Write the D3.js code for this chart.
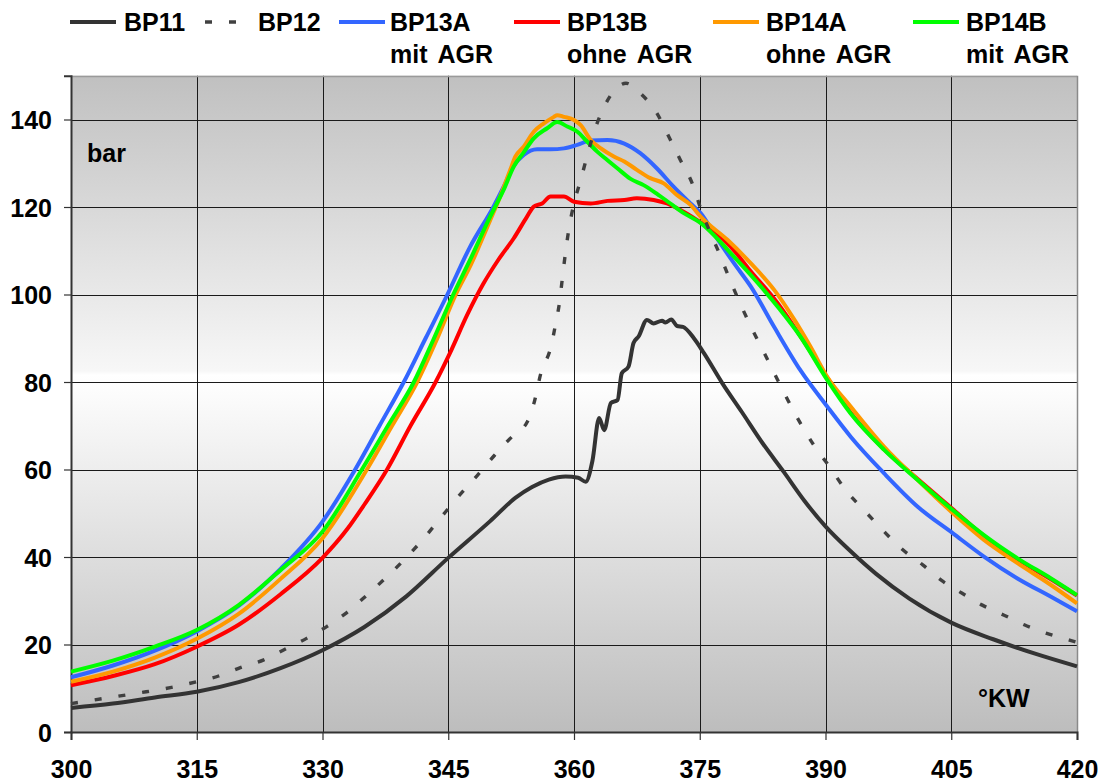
<!DOCTYPE html>
<html>
<head>
<meta charset="utf-8">
<script src="https://cdn.jsdelivr.net/npm/d3@7"></script>
<style>
  html, body { margin: 0; padding: 0; background: #ffffff; }
  svg { display: block; }
  text { font-family: "Liberation Sans", Arial, sans-serif; font-weight: bold; fill: #000; }
</style>
</head>
<body>
<svg id="chart" width="1102" height="782"></svg>
<script>
// Crank angle (°KW) and cylinder pressure (bar) per operating point
const bp11 = [
  [300,5.5],[305,6.5],[310,7.9],[315,9.2],[320,11.4],[325,14.6],[330,18.7],[335,24],
  [340,31],[345,39.8],[350,48.2],[353,53.5],[355,56],[357,57.7],[359,58.4],
  [360.5,58.1],[361.4,57.2],[362.2,62],[363,71.8],[363.6,69],[364.4,75.2],[365.2,75.9],
  [365.7,82],[366.5,83.5],[367.1,88.9],[367.7,90.4],[368.7,94.2],[369.5,93.4],[370.5,94],
  [370.9,93.6],[371.6,94.3],[372.3,92.8],[373,92.6],[374.3,90],[375.5,86.6],[377.7,79.7],
  [380,73.2],[382.5,66],[385,59.5],[387.5,52.8],[390,47],[393,41.3],[396,36.2],[400,30.5],
  [405,25],[410,21.2],[415,17.9],[420,15]
];
const bp12 = [
  [300,6.5],[304,7.7],[308,8.9],[312,10.2],[315,11.5],[317.6,12.8],[320.2,14.7],[323,16.5],
  [325.3,18.7],[328.1,21.4],[330.5,24.1],[332.9,27.3],[335.3,31.3],[337.7,35.5],[339.9,39.7],
  [342.1,44.3],[344.2,49.2],[346.2,53.8],[348.4,58.5],[350.5,63.2],[352.6,67.5],[354.4,70.8],
  [355.2,75],[356.1,82.4],[357.2,87.7],[357.8,93.2],[358.3,98.6],[358.6,103.5],[359,109.8],
  [359.4,115.1],[360,120.8],[360.8,126.2],[361.6,131.9],[362.4,137.2],[363.6,142.9],
  [365.2,147.4],[366.2,148.3],[367.9,146],[369.9,141.4],[371.3,136.1],[372.7,130.7],
  [374.1,125.4],[375.1,119.7],[377.5,108.6],[378.7,102.9],[379.9,97.6],[381.3,91.9],
  [382.7,86.6],[384.1,81.2],[385.5,75.9],[387,70.6],[388.6,65.6],[390.6,60.3],[392.4,55.3],
  [394.6,50.7],[396.8,46.2],[399,42],[401.6,38.2],[403.8,34.7],[406.3,31.7],[408.7,29],
  [411.3,26.7],[413.7,24.5],[416.3,22.6],[419.1,21],[420,20.5]
];
const bp13a = [
  [300,12.5],[305,15.2],[310,18.6],[315,23],[320,28.8],[325,37.3],[330,48.1],[333.9,60],
  [336.8,70],[339.7,80],[342.3,90],[344.9,100],[347.6,110.9],[350.4,120.1],[351.6,124.6],
  [352.8,129.4],[354,131.9],[355.6,133.2],[357.2,133.2],[358.8,133.4],[360.4,134.2],
  [362,135.2],[364,135.3],[366,134.5],[367.9,132.3],[369.9,128.8],[371.9,124.6],[373.9,120.8],
  [375.1,118.6],[377,113],[379.1,107.1],[381.1,101.8],[383.9,92.5],[387,82.7],[390.2,74.4],
  [393,67.5],[397,59.1],[401,51.5],[405.2,45.4],[408.9,40.1],[412.9,35.1],[416.9,30.9],[420,27.6]
];
const bp13b = [
  [300,10.7],[305,12.8],[310,15.5],[315,19.5],[320,24.5],[325,31.5],[330,39.8],[333,46.5],
  [335,52],[337.7,60],[340.5,70],[343.5,80],[345.2,86.6],[347.3,95.5],[349.2,102.5],[351,108],
  [352.8,112.8],[354.4,117.8],[355.2,120.1],[356.2,120.8],[357.2,122.4],[358.8,122.4],
  [360,121.2],[362,120.8],[364,121.4],[366,121.6],[367.5,122],[369.5,121.6],[371.1,120.8],
  [372.7,119.3],[374.7,117],[376.7,114.4],[378.7,110.9],[381,105.5],[384.3,98],[387,90.5],
  [390.2,81],[393,73],[397,64.6],[401,57.8],[405.2,50.9],[408.9,44.8],[412.9,39.5],
  [416.9,34.9],[420,31.2]
];
const bp14a = [
  [300,11.5],[305,13.8],[310,17],[315,21.3],[320,27],[325,35],[330,44.3],[335.3,60],
  [338.3,70],[341.3,80],[343.7,90],[345.9,100],[347.6,106.4],[350,117],[351.2,122.4],
  [352.4,128.5],[353,131.5],[354,133.8],[355.2,137.2],[356.4,139.1],[357.6,140.6],[358,141],
  [358.8,140.6],[360,139.9],[360.8,138.7],[362,135.3],[363.2,133.4],[364.8,131.5],[366,130.4],
  [367.5,128.5],[369.1,126.6],[370.7,125.4],[372.3,122.7],[373.9,120.5],[375.1,117.8],
  [378.3,112.5],[381.1,107.1],[383.9,101],[386.3,94.2],[388.2,88.1],[390.2,81.2],[393,74.4],
  [397,65.2],[401,57.6],[405.2,50],[408.9,43.9],[412.9,38.6],[416.9,33.6],[420,29.4]
];
const bp14b = [
  [300,13.8],[305,16.3],[310,19.5],[315,23.3],[320,29],[325,37],[330,45.8],[334.7,60],
  [337.8,70],[340.9,80],[343.3,90],[345.6,100],[347.6,107.9],[350,117.8],[351.6,123.9],
  [352.8,129.2],[354,132.5],[355.2,135.7],[356.8,138],[358,139.4],[359.2,138.4],[360.4,137.2],
  [361.6,134.9],[362.8,132.6],[364,130.7],[365.2,128.8],[366.7,126.5],[368.3,125],[369.9,123],
  [371.5,120.8],[373.1,118.6],[375,116.5],[379.1,108.6],[384.3,97.2],[387,90.4],[390.2,80.5],
  [393,72.8],[397,64.5],[401,57.6],[405.2,50.7],[408.9,45],[412.9,39.7],[416.9,35.1],[420,31.3]
];

const xTicks = [300, 315, 330, 345, 360, 375, 390, 405, 420];
const yTicks = [0, 20, 40, 60, 80, 100, 120, 140];

const series = [
  { name: "BP13A", sub: "mit AGR",  data: bp13a, color: "#3366ff" },
  { name: "BP13B", sub: "ohne AGR", data: bp13b, color: "#ff0000" },
  { name: "BP14A", sub: "ohne AGR", data: bp14a, color: "#ff9900" },
  { name: "BP14B", sub: "mit AGR",  data: bp14b, color: "#00ff00" },
  { name: "BP11",  sub: "",         data: bp11,  color: "#333333" },
  { name: "BP12",  sub: "",         data: bp12,  color: "#404040", dash: "7,17" }
];

const svg = d3.select("#chart");
const x = d3.scaleLinear().domain([300, 420]).range([71, 1077]);
const y = d3.scaleLinear().domain([0, 150]).range([732, 75.75]);
const crisp = v => Math.round(v) + 0.5;

// Plot background: grey at top and bottom, white band through the middle
const defs = svg.append("defs");
const grad = defs.append("linearGradient").attr("id", "bg").attr("x1", 0).attr("y1", 0).attr("x2", 0).attr("y2", 1);
[["0%", "#c0c0c0"], ["45%", "#f7f7f7"], ["45.6%", "#ffffff"], ["100%", "#bdbdbd"]]
  .forEach(([o, c]) => grad.append("stop").attr("offset", o).attr("stop-color", c));

svg.append("rect")
  .attr("x", x(300)).attr("y", y(150))
  .attr("width", x(420) - x(300)).attr("height", y(0) - y(150))
  .attr("fill", "url(#bg)");

// Grid
const grid = svg.append("g");
grid.selectAll("line.h").data(yTicks.filter(d => d > 0)).join("line")
  .attr("x1", x(300)).attr("x2", x(420))
  .attr("y1", d => crisp(y(d))).attr("y2", d => crisp(y(d)))
  .attr("stroke", "#1a1a1a").attr("stroke-width", 1);
grid.selectAll("line.v").data(xTicks.filter(d => d > 300 && d < 420)).join("line")
  .attr("y1", y(0)).attr("y2", y(150))
  .attr("x1", d => crisp(x(d))).attr("x2", d => crisp(x(d)))
  .attr("stroke", "#1a1a1a").attr("stroke-width", 1);

// Frame: top and right edges grey
svg.append("line").attr("x1", x(300)).attr("x2", x(420)).attr("y1", crisp(y(150))).attr("y2", crisp(y(150)))
  .attr("stroke", "#9a9a9a").attr("stroke-width", 1.5);
svg.append("line").attr("x1", crisp(x(420))).attr("x2", crisp(x(420))).attr("y1", y(150)).attr("y2", y(0))
  .attr("stroke", "#8a8a8a").attr("stroke-width", 1.5);

// Axes
const yAxis = d3.axisLeft(y).tickValues(yTicks).tickSize(7).tickPadding(12).tickFormat(d3.format("d"));
const xAxis = d3.axisBottom(x).tickValues(xTicks).tickSize(8).tickPadding(20).tickFormat(d3.format("d"));

const gy = svg.append("g").attr("transform", `translate(${x(300)},0)`).call(yAxis);
const gx = svg.append("g").attr("transform", `translate(0,${y(0)})`).call(xAxis);
[gx, gy].forEach(g => {
  g.select(".domain").attr("stroke", "#333").attr("stroke-width", 2);
  g.selectAll(".tick line").attr("stroke", "#333").attr("stroke-width", 1.2);
  g.selectAll(".tick text").attr("font-size", 25).attr("font-weight", "bold")
    .attr("font-family", '"Liberation Sans", Arial, sans-serif').attr("fill", "#000");
});
gy.selectAll(".tick text").attr("dy", "0.36em");
gx.selectAll(".tick text").attr("dy", "0.71em");

// Curves
const line = d3.line().x(d => x(d[0])).y(d => y(d[1])).curve(d3.curveMonotoneX);
const plot = svg.append("g");
series.forEach(s => {
  plot.append("path")
    .datum(s.data)
    .attr("d", line)
    .attr("fill", "none")
    .attr("stroke", s.color)
    .attr("stroke-width", s.dash ? 3.4 : 4)
    .attr("stroke-linejoin", "round")
    .attr("stroke-dasharray", s.dash || null);
});

// Unit labels inside plot
svg.append("text").attr("x", 87).attr("y", 162).attr("font-size", 25).text("bar");
svg.append("text").attr("x", 978).attr("y", 707).attr("font-size", 25).text("°KW");

// Legend
const legendItems = [
  { s: series[4], lx: 70,  tx: 124 },
  { s: series[5], lx: 205, tx: 258 },
  { s: series[0], lx: 339, tx: 390 },
  { s: series[1], lx: 514, tx: 567 },
  { s: series[2], lx: 713, tx: 766 },
  { s: series[3], lx: 913, tx: 966 }
];
const lg = svg.append("g");
legendItems.forEach(it => {
  lg.append("line")
    .attr("x1", it.lx).attr("x2", it.lx + 46)
    .attr("y1", 22).attr("y2", 22)
    .attr("stroke", it.s.color)
    .attr("stroke-width", it.s.dash ? 3.4 : 4)
    .attr("stroke-dasharray", it.s.dash || null);
  lg.append("text").attr("x", it.tx).attr("y", 31).attr("font-size", 25).text(it.s.name);
  if (it.s.sub) lg.append("text").attr("x", it.tx).attr("y", 63).attr("font-size", 25)
    .attr("word-spacing", 4).text(it.s.sub);
});
</script>
</body>
</html>
